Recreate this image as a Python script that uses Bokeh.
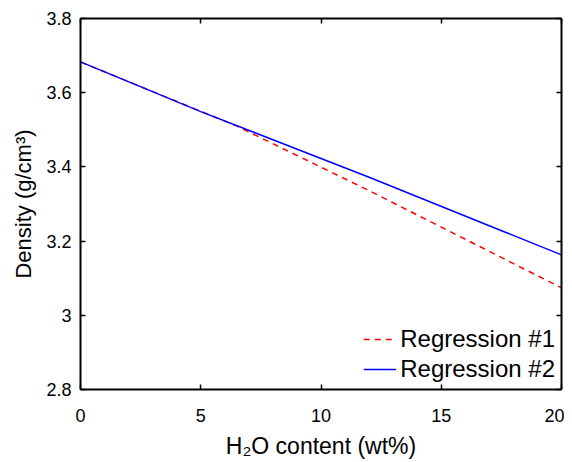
from bokeh.plotting import figure
from bokeh.models import Range1d, LinearAxis, FixedTicker, Legend, LegendItem
from bokeh.embed import file_html
from bokeh.resources import INLINE

# Data
reg1_x = [0, 6.5, 12, 20]
reg1_y = [3.683, 3.510, 3.336, 3.074]
reg2_x = [0, 5, 12, 20]
reg2_y = [3.683, 3.549, 3.372, 3.163]
x_ticks = [0, 5, 10, 15, 20]
y_ticks = [2.8, 3.0, 3.2, 3.4, 3.6, 3.8]
y_tick_labels = ["2.8", "3", "3.2", "3.4", "3.6", "3.8"]
x_tick_labels = ["0", "5", "10", "15", "20"]

FONT = "Liberation Sans"

p = figure(output_backend="svg", toolbar_location=None,
           frame_width=481, frame_height=371,
           min_border_left=80, min_border_top=18, min_border_right=3, min_border_bottom=60,
           x_range=Range1d(0, 20), y_range=Range1d(2.8, 3.8))
p.outline_line_color = None
p.xgrid.visible = False
p.ygrid.visible = False
p.background_fill_color = "white"
p.border_fill_color = "white"

r1 = p.line(reg1_x, reg1_y, line_color="#ff0000", line_width=1.5, line_dash="6 5")
r2 = p.line(reg2_x, reg2_y, line_color="#0000ff", line_width=1.5)

def style_axis(ax, ticks, labels, show_labels):
    ax.ticker = FixedTicker(ticks=ticks)
    ax.axis_line_width = 2
    ax.axis_line_color = "black"
    ax.major_tick_in = 5
    ax.major_tick_out = 0
    ax.major_tick_line_width = 1.5
    ax.minor_tick_line_color = None
    ax.major_label_text_font = FONT
    ax.major_label_text_color = "black"
    ax.major_label_text_font_size = "18px"
    if show_labels:
        ax.major_label_overrides = {t: l for t, l in zip(ticks, labels)}
    else:
        ax.major_label_overrides = {t: "" for t in ticks}
        ax.major_label_standoff = 0

xa = p.xaxis[0]
ya = p.yaxis[0]
style_axis(xa, x_ticks, x_tick_labels, True)
style_axis(ya, y_ticks, y_tick_labels, True)
xa.major_label_standoff = 19
ya.major_label_standoff = 9
xa.axis_label = "H\u2082O content (wt%)"
ya.axis_label = "Density (g/cm\u00b3)"
for ax in (xa, ya):
    ax.axis_label_text_font = FONT
    ax.axis_label_text_font_style = "normal"
    ax.axis_label_text_color = "black"
xa.axis_label_text_font_size = "23px"
ya.axis_label_text_font_size = "22px"
xa.axis_label_standoff = 8
ya.axis_label_standoff = 7

top = LinearAxis()
right = LinearAxis()
p.add_layout(top, "above")
p.add_layout(right, "right")
style_axis(top, x_ticks, x_tick_labels, False)
style_axis(right, y_ticks, y_tick_labels, False)

legend = Legend(items=[LegendItem(label="Regression #1", renderers=[r1]),
                       LegendItem(label="Regression #2", renderers=[r2])],
                location="bottom_right")
legend.label_text_font = FONT
legend.label_text_font_size = "24px"
legend.label_text_color = "black"
legend.glyph_width = 33
legend.label_standoff = 4
legend.spacing = 2
legend.margin = 6
legend.padding = 6
legend.border_line_color = None
legend.background_fill_alpha = 0
p.add_layout(legend)

open("out.html", "w").write(file_html(p, INLINE))
